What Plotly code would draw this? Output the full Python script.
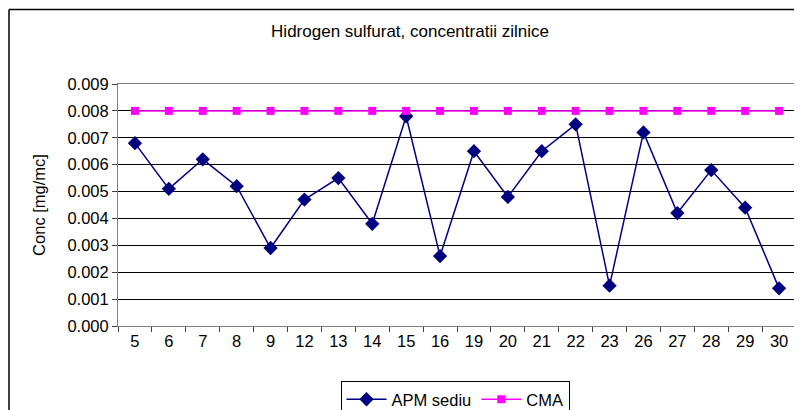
import plotly.graph_objects as go

days = ["5", "6", "7", "8", "9", "12", "13", "14", "15", "16",
        "19", "20", "21", "22", "23", "26", "27", "28", "29", "30"]
apm_sediu = [0.0068, 0.0051, 0.0062, 0.0052, 0.0029, 0.0047, 0.0055, 0.0038, 0.0078, 0.0026,
             0.0065, 0.0048, 0.0065, 0.0075, 0.0015, 0.0072, 0.0042, 0.0058, 0.0044, 0.0014]
cma = [0.008] * len(days)
y_ticks = [0.000, 0.001, 0.002, 0.003, 0.004, 0.005, 0.006, 0.007, 0.008, 0.009]

FONT = "Liberation Sans, Arial, sans-serif"
FS = 16.5

fig = go.Figure()
fig.add_trace(go.Scatter(
    x=days, y=apm_sediu, name="APM sediu", mode="lines+markers",
    line=dict(color="#000080", width=1.5),
    marker=dict(symbol="diamond", size=11, color="#000080"),
))
fig.add_trace(go.Scatter(
    x=days, y=cma, name="CMA", mode="lines+markers",
    line=dict(color="#FF00FF", width=1.5),
    marker=dict(symbol="square", size=8, color="#FF00FF"),
))

# page has an 8px body margin: figure coords = picture coords - 8
OFF = 8
W, H = 802 - OFF, 410 - OFF
L, R = 118 - OFF, 802 - 796
T, B = 84 - OFF, 410 - 326
pw, ph = W - L - R, H - T - B

def px_x(v):
    return (v - L) / pw

def px_y(v):
    return (H - B - v) / ph

# outer chart border (top and left visible; right and bottom fall outside the picture)
fig.add_shape(type="line", xref="paper", yref="paper",
              x0=px_x(1), x1=px_x(W + 5), y0=px_y(1.5), y1=px_y(1.5),
              line=dict(color="black", width=1.5))
fig.add_shape(type="line", xref="paper", yref="paper",
              x0=px_x(1), x1=px_x(1), y0=px_y(1.5), y1=px_y(H + 5),
              line=dict(color="black", width=1.5))

fig.update_layout(
    width=W, height=H,
    margin=dict(l=L, r=R, t=T, b=B, autoexpand=False),
    paper_bgcolor="white", plot_bgcolor="white",
    font=dict(family=FONT, size=FS, color="black"),
    title=dict(text="Hidrogen sulfurat, concentratii zilnice", x=(410 - OFF) / W, xanchor="center",
               y=1 - (31 - OFF) / H, yanchor="middle", yref="container",
               font=dict(family=FONT, size=17, color="black")),
    showlegend=True,
    legend=dict(orientation="h", x=(455 - OFF - L) / pw, xanchor="center",
                y=1 - (381 - OFF) / H, yanchor="top", yref="container",
                bordercolor="black", borderwidth=1, bgcolor="white",
                font=dict(family=FONT, size=FS, color="black"),
                itemwidth=40),
    xaxis=dict(type="category", range=[-0.5, len(days) - 0.5], tickson="boundaries",
               ticks="outside", ticklen=5,
               tickcolor="#404040", showline=True, linecolor="#808080", mirror=True,
               showgrid=False, tickfont=dict(size=FS)),
    yaxis=dict(range=[0, 0.009], tickvals=y_ticks, tickformat=".3f", ticks="outside",
               ticklen=5, tickcolor="#404040", showline=True, linecolor="#808080",
               mirror=True, showgrid=True, gridcolor="black", gridwidth=1,
               zeroline=False, tickfont=dict(size=FS),
               title=dict(text="Conc [mg/mc]", font=dict(size=FS), standoff=17)),
)

fig.write_html("out.html")
